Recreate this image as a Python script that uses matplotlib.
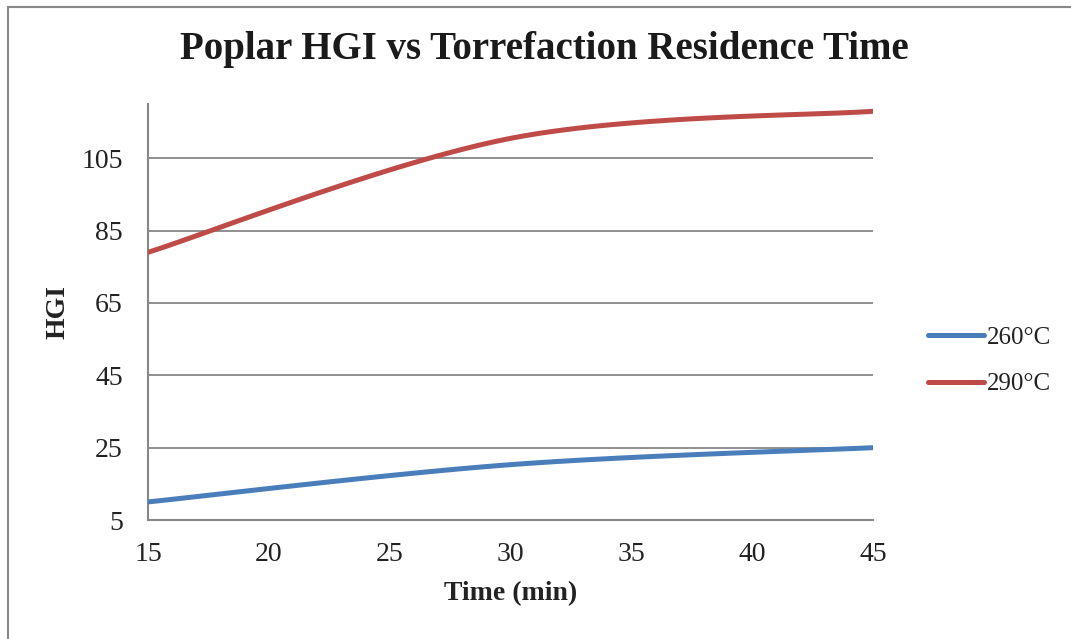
import numpy as np
import matplotlib
matplotlib.use("Agg")
import matplotlib.pyplot as plt
from matplotlib.patches import Rectangle

# ---- data ----
time_min = [15, 30, 45]
hgi_260 = [10.0, 20.3, 25.0]
hgi_290 = [79.0, 110.5, 118.0]
series_labels = ["260°C", "290°C"]
x_ticks = [15, 20, 25, 30, 35, 40, 45]
y_ticks = [5, 25, 45, 65, 85, 105]

plt.rcParams['font.family'] = ['Liberation Serif', 'DejaVu Serif']


def smooth(xs, ys, n=60):
    """Excel-style smoothed line (Catmull-Rom Bezier, ends duplicated)."""
    P = np.column_stack([xs, ys]).astype(float)
    P = np.vstack([P[0], P, P[-1]])
    out = []
    t = np.linspace(0, 1, n)[:, None]
    for i in range(1, len(P) - 2):
        p0, p1, p2, p3 = P[i - 1], P[i], P[i + 1], P[i + 2]
        c1 = p1 + (p2 - p0) / 6.0
        c2 = p2 - (p3 - p1) / 6.0
        seg = ((1 - t) ** 3) * p1 + 3 * ((1 - t) ** 2) * t * c1 + 3 * (1 - t) * t ** 2 * c2 + t ** 3 * p2
        out.append(seg if i == 1 else seg[1:])
    out = np.vstack(out)
    return out[:, 0], out[:, 1]


W, H = 1071, 639
fig = plt.figure(figsize=(W / 100, H / 100), dpi=100)
fig.patch.set_facecolor('white')

# outer chart border
fig.patches.append(Rectangle((8 / W, -0.05), 1.2, 1 - 7 / H + 0.05, transform=fig.transFigure,
                             fill=False, edgecolor='#888888', linewidth=1.5))

ax = fig.add_axes([148 / W, 1 - 520 / H, (873 - 148) / W, (520 - 104) / H])

grid_c = '#878787'
blue = '#4A7EBB'
red = '#BE4B48'
txt_c = '#222222'

for yv in y_ticks[1:]:
    ax.axhline(yv, color=grid_c, linewidth=1.3, zorder=1)

xs, ys = smooth(time_min, hgi_260)
ax.plot(xs, ys, color=blue, linewidth=3.6, solid_capstyle='round', label=series_labels[0], zorder=3)
xs, ys = smooth(time_min, hgi_290)
ax.plot(xs, ys, color=red, linewidth=3.6, solid_capstyle='round', label=series_labels[1], zorder=3)

ax.set_xlim(15, 45)
ax.set_ylim(5, 120)
ax.set_xticks(x_ticks)
ax.set_yticks(y_ticks)
ax.tick_params(axis='both', length=0, labelsize=20, colors=txt_c)
ax.tick_params(axis='y', pad=18)
ax.tick_params(axis='x', pad=16)

for s in ['top', 'right']:
    ax.spines[s].set_visible(False)
for s in ['left', 'bottom']:
    ax.spines[s].set_color(grid_c)
    ax.spines[s].set_linewidth(1.5)

fig.text(511 / W, 1 - 594 / H, 'Time (min)', ha='center', va='center',
         fontsize=20, fontweight='bold', color=txt_c)
fig.text(58 / W, 1 - 312 / H, 'HGI', ha='center', va='center', rotation=90,
         fontsize=20, fontweight='bold', color=txt_c)

fig.text(544 / W, 1 - 50 / H, 'Poplar HGI vs Torrefaction Residence Time', ha='center', va='center',
         fontsize=28, fontweight='bold', color='#1a1a1a')

leg = ax.legend(loc='center left', bbox_to_anchor=(905 / W, 1 - 361 / H), bbox_transform=fig.transFigure,
                frameon=False, fontsize=18, handlelength=2.25, handletextpad=0.12, labelspacing=0.95,
                labelcolor=txt_c)

fig.savefig('out.png', dpi=100, facecolor='white')
